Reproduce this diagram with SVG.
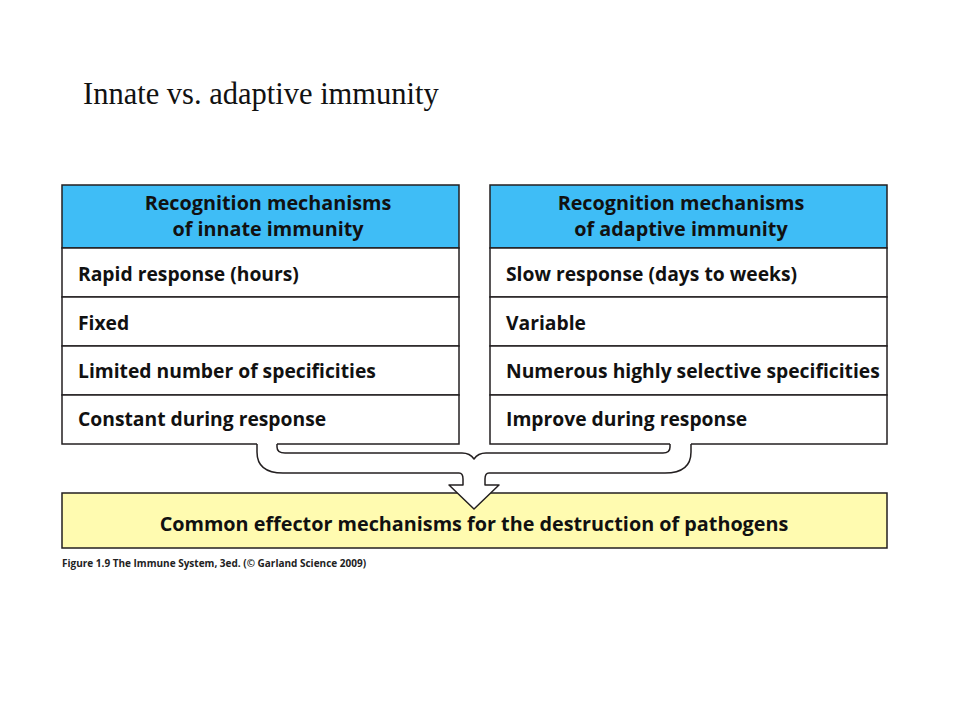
<svg xmlns="http://www.w3.org/2000/svg" width="960" height="720" viewBox="0 0 960 720">
<style>
.cell{fill:#ffffff;stroke:#231f20;stroke-width:1.5}
.head{fill:#3fbdf6;stroke:#231f20;stroke-width:1.5}
.eff{fill:#fffbb0;stroke:#231f20;stroke-width:1.5}
.ht{font-family:"Open Sans","Noto Sans",sans-serif;font-weight:700;font-size:19.8px;fill:#111;text-anchor:middle}
.rt{font-family:"Open Sans","Noto Sans",sans-serif;font-weight:700;font-size:19.3px;fill:#111}
.line{fill:none;stroke:#231f20;stroke-width:1.5;stroke-linejoin:round}
</style>
<rect width="960" height="720" fill="#ffffff"/>
<text x="83" y="104" font-family="'Liberation Serif','Times New Roman',serif" font-size="30.5" fill="#111">Innate vs. adaptive immunity</text>

<g id="innate">
<rect class="head" x="62" y="185" width="397" height="63"/>
<text class="ht" x="268" y="210">Recognition mechanisms</text>
<text class="ht" x="268" y="236">of innate immunity</text>
<rect class="cell" x="62" y="248" width="397" height="49"/>
<text class="rt" x="78" y="281">Rapid response (hours)</text>
<rect class="cell" x="62" y="297" width="397" height="49"/>
<text class="rt" x="78" y="330">Fixed</text>
<rect class="cell" x="62" y="346" width="397" height="49"/>
<text class="rt" x="78" y="378">Limited number of specificities</text>
<rect class="cell" x="62" y="395" width="397" height="49"/>
<text class="rt" x="78" y="426">Constant during response</text>
</g>

<g id="adaptive">
<rect class="head" x="490" y="185" width="397" height="63"/>
<text class="ht" x="681" y="210">Recognition mechanisms</text>
<text class="ht" x="681" y="236">of adaptive immunity</text>
<rect class="cell" x="490" y="248" width="397" height="49"/>
<text class="rt" x="506" y="281">Slow response (days to weeks)</text>
<rect class="cell" x="490" y="297" width="397" height="49"/>
<text class="rt" x="506" y="330">Variable</text>
<rect class="cell" x="490" y="346" width="397" height="49"/>
<text class="rt" x="506" y="378">Numerous highly selective specificities</text>
<rect class="cell" x="490" y="395" width="397" height="49"/>
<text class="rt" x="506" y="426">Improve during response</text>
</g>

<g id="effector">
<rect class="eff" x="62" y="493" width="825" height="55"/>
<text class="ht" x="474" y="531">Common effector mechanisms for the destruction of pathogens</text>
</g>

<g id="connectors">
<path fill="#ffffff" stroke="none" d="M257,442.5 L257,452 Q257,473 283,473 L459,473 Q463,473 463,479 L463,485 L449,485 L474,509 L499,485 L485,485 L485,479 Q485,473 489,473 L665,473 Q691,473 691,452 L691,442.5 L670,442.5 L670,447 Q670,453 663,453 L486,453 Q478,453 474,459 Q470,453 462,453 L285,453 Q277,453 277,447 L277,442.5 Z"/>
<path class="line" d="M257,444 L257,452 Q257,473 283,473 L459,473 Q463,473 463,479 L463,485 L449,485 L474,509 L499,485 L485,485 L485,479 Q485,473 489,473 L665,473 Q691,473 691,452 L691,444"/>
<path class="line" d="M670,444 L670,447 Q670,453 663,453 L486,453 Q478,453 474,459 Q470,453 462,453 L285,453 Q277,453 277,447 L277,444"/>
</g>

<text x="62" y="567" font-family="'Open Sans','Noto Sans',sans-serif" font-weight="700" font-size="10" fill="#222">Figure 1.9  The Immune System, 3ed. (© Garland Science 2009)</text>
</svg>
